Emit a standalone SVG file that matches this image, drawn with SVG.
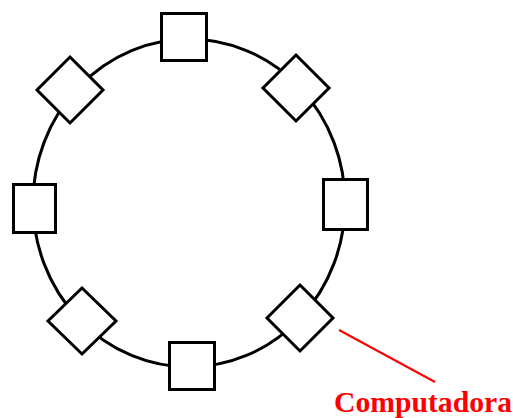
<svg xmlns="http://www.w3.org/2000/svg" width="513" height="418" viewBox="0 0 513 418">
<style>
.ring{fill:none;stroke:#000;stroke-width:3}
.node{fill:#fff;stroke:#000;stroke-width:3}
.lbl{font-family:"Liberation Serif","Times New Roman",serif;font-weight:bold;font-size:29px;fill:#f00}
</style>
<rect width="513" height="418" fill="#fff"/>
<g id="connectors">
<ellipse class="ring" cx="189" cy="203" rx="156" ry="164"/>
<line x1="339" y1="330" x2="435" y2="382" stroke="#f00" stroke-width="2"/>
</g>
<g id="n-top"><rect class="node" x="161.5" y="13.5" width="45" height="47"/></g>
<g id="n-tr"><polygon class="node" points="296,55 329,88 296,121 263,88"/></g>
<g id="n-right"><rect class="node" x="323.5" y="179.5" width="44" height="50"/></g>
<g id="n-br"><polygon class="node" points="300,285 333,318 300,351 267,318"/></g>
<g id="n-bottom"><rect class="node" x="169.5" y="342.5" width="45" height="47"/></g>
<g id="n-bl"><polygon class="node" points="82,288 116,321 82,354 48,321"/></g>
<g id="n-left"><rect class="node" x="13.5" y="184.5" width="42" height="48"/></g>
<g id="n-tl"><polygon class="node" points="70,57 103,90 70,123 37,90"/></g>
<g id="label"><text class="lbl" x="334" y="412" textLength="178" lengthAdjust="spacingAndGlyphs">Computadora</text></g>
</svg>
